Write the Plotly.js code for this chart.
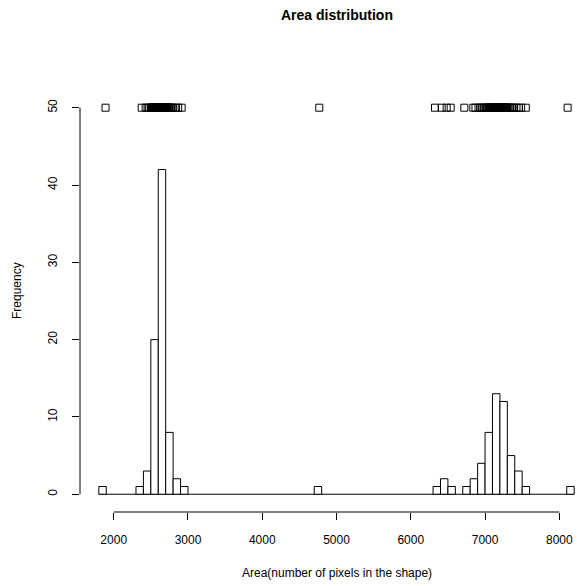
<!DOCTYPE html>
<html>
<head>
<meta charset="utf-8">
<script src="https://cdn.plot.ly/plotly-3.0.1.min.js"></script>
<style>html,body{margin:0;padding:0;background:#fff;}#chart{width:577px;height:586px;}</style>
</head>
<body>
<div id="chart"></div>
<script>
// Shape areas (pixels) read from the rug of squares and the histogram
const areas = [
  1890,
  2377,
  2430, 2455, 2480,
  2503, 2511, 2518, 2524, 2532, 2537, 2541, 2549, 2553, 2558,
  2562, 2567, 2571, 2576, 2580, 2584, 2589, 2592, 2596, 2599,
  2601, 2604, 2606, 2609, 2611, 2613, 2616, 2618, 2620, 2622,
  2624, 2627, 2629, 2631, 2633, 2635, 2637, 2640, 2642, 2644,
  2646, 2648, 2650, 2652, 2655, 2657, 2659, 2661, 2664, 2666,
  2668, 2671, 2673, 2676, 2679, 2682, 2685, 2688, 2690, 2693,
  2696, 2698,
  2706, 2718, 2729, 2741, 2752, 2765, 2779, 2797,
  2839, 2868,
  2915,
  4768,
  6326,
  6416, 6483,
  6537,
  6721,
  6842, 6871,
  6912, 6938, 6961, 6987,
  7008, 7019, 7031, 7044, 7058, 7067, 7079, 7093,
  7104, 7111, 7118, 7126, 7133, 7141, 7149, 7156, 7163, 7171, 7178, 7186, 7194,
  7203, 7212, 7219, 7227, 7236, 7244, 7252, 7261, 7269, 7277, 7286, 7295,
  7312, 7334, 7356, 7371, 7389,
  7423, 7457, 7486,
  7548,
  8112
];
const rugLevel = 50;
const xTicks = [2000, 3000, 4000, 5000, 6000, 7000, 8000];
const yTicks = [0, 10, 20, 30, 40, 50];
const binStart = 1800, binEnd = 8200, binSize = 100;

const font = {family: '"Liberation Sans", Arial, Helvetica, sans-serif', color: '#000'};

const traces = [
  {
    type: 'histogram',
    x: areas,
    xbins: {start: binStart, end: binEnd, size: binSize},
    marker: {color: '#ffffff', line: {color: '#000000', width: 1}},
    hoverinfo: 'x+y'
  },
  {
    type: 'scatter',
    mode: 'markers',
    x: areas,
    y: areas.map(() => rugLevel),
    marker: {symbol: 'square-open', size: 7, color: '#000000', line: {width: 1, color: '#000000'}},
    cliponaxis: false
  }
];

const layout = {
  width: 577, height: 586,
  margin: {l: 80, r: 0, t: 60, b: 74},
  paper_bgcolor: '#ffffff', plot_bgcolor: '#ffffff',
  showlegend: false,
  bargap: 0,
  font: Object.assign({size: 12}, font),
  title: {
    text: 'Area distribution',
    font: Object.assign({size: 14, weight: 'bold'}, font),
    xref: 'container', x: 0.584, xanchor: 'center',
    yref: 'container', y: 0.974, yanchor: 'middle'
  },
  xaxis: {
    range: [1546.2, 8238],
    tickmode: 'array', tickvals: xTicks, ticktext: xTicks.map(String),
    ticks: 'outside', ticklen: 7, tickwidth: 1, tickcolor: '#000',
    showline: false, showgrid: false, zeroline: false,
    tickfont: Object.assign({size: 12}, font),
    ticklabelstandoff: 10
  },
  yaxis: {
    range: [-2.30, 56.17],
    tickmode: 'array', tickvals: yTicks, ticktext: yTicks.map(String),
    ticks: 'outside', ticklen: 7, tickwidth: 1, tickcolor: '#000',
    tickangle: -90,
    showline: false, showgrid: false, zeroline: false,
    tickfont: Object.assign({size: 12}, font),
    ticklabelstandoff: 10
  },
  shapes: [
    {type: 'line', xref: 'x', yref: 'paper', x0: xTicks[0], x1: xTicks[xTicks.length - 1], y0: 0, y1: 0,
     line: {color: '#000', width: 1}},
    {type: 'line', xref: 'paper', yref: 'y', x0: 0, x1: 0, y0: yTicks[0], y1: yTicks[yTicks.length - 1],
     line: {color: '#000', width: 1}},
    {type: 'line', xref: 'x', yref: 'y', x0: binStart, x1: binEnd, y0: 0, y1: 0, layer: 'below',
     line: {color: '#000', width: 1}}
  ],
  annotations: [
    {text: 'Area(number of pixels in the shape)', xref: 'paper', yref: 'paper', x: 0.517, y: -0.135,
     xanchor: 'center', yanchor: 'middle', showarrow: false, font: Object.assign({size: 12}, font)},
    {text: 'Frequency', xref: 'paper', yref: 'paper', x: -0.1268, y: 0.491, textangle: -90,
     xanchor: 'center', yanchor: 'middle', showarrow: false, font: Object.assign({size: 12}, font)}
  ]
};

Plotly.newPlot('chart', traces, layout, {displayModeBar: false, staticPlot: true});
</script>
</body>
</html>
